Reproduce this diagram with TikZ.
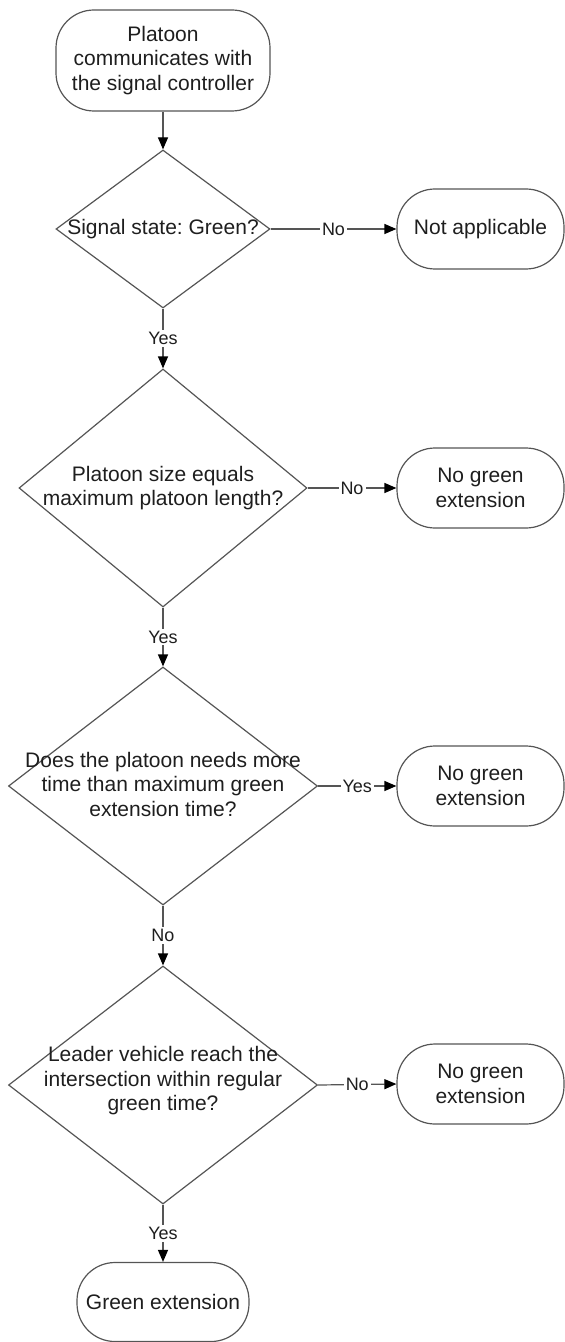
\documentclass[tikz,border=0pt]{standalone}
\usepackage{fontspec}
\setmainfont{Liberation Sans}
\usetikzlibrary{shapes.geometric,arrows.meta}
\definecolor{ln}{HTML}{555555}
\definecolor{tx}{HTML}{1E1E1E}
\frenchspacing
\begin{document}
\begin{tikzpicture}[x=0.5pt,y=-0.5pt,
  font=\fontsize{10.5}{12.25}\selectfont, text=tx,
  term/.style={draw=ln, line width=0.6pt, rounded corners=19pt, align=center, inner sep=0pt, minimum width=83.5pt, minimum height=40pt},
  dia/.style={draw=ln, line width=0.6pt, diamond, inner sep=0pt},
  dtext/.style={align=center, inner sep=0pt},
  conn/.style={draw=ln, line width=0.6pt, -{Triangle[length=6pt,width=5pt,color=black]}},
  lbl/.style={fill=white, inner sep=1pt, text=tx, font=\fontsize{9}{10}\selectfont}]
\useasboundingbox (0,0) rectangle (565,1342);
% start
\node[term, minimum width=107pt, minimum height=50.5pt] (top) at (163,60.5) {Platoon\\communicates with\\the signal controller};
% decision 1
\node[dia, minimum width=107pt, minimum height=79pt] (d1) at (163,229) {};
\node[dtext] (d1t) at (d1.center) {Signal state: Green?};
\node[term] (na) at (480.5,229) {Not applicable};
% decision 2
\node[dia, minimum width=144pt, minimum height=119pt] (d2) at (163,488) {};
\node[dtext] (d2t) at (d2.center) {Platoon size equals\\maximum platoon length?};
\node[term] (n2) at (480.5,488) {No green\\extension};
% decision 3
\node[dia, minimum width=154.5pt, minimum height=119pt] (d3) at (163,786) {};
\node[dtext] (d3t) at ([yshift=1pt]d3.center) {Does the platoon needs more\\time than maximum green\\extension time?};
\node[term] (n3) at (480.5,786) {No green\\extension};
% decision 4
\node[dia, minimum width=154.5pt, minimum height=119pt] (d4) at (163,1085) {};
\node[dtext] (d4t) at ([yshift=2pt]d4.center) {Leader vehicle reach the\\intersection within regular\\green time?};
\node[term] (n4) at (480.5,1084) {No green\\extension};
% end
\node[term, minimum width=86pt, minimum height=39.5pt] (ge) at (163,1302) {Green extension};
% connectors
\draw[conn] (top.south) -- (d1.north);
\draw[conn] (d1.east) -- node[lbl]{No} (na.west);
\draw[conn] (d1.south) -- node[lbl]{Yes} (d2.north);
\draw[conn] (d2.east) -- node[lbl]{No} (n2.west);
\draw[conn] (d2.south) -- node[lbl]{Yes} (d3.north);
\draw[conn] (d3.east) -- node[lbl]{Yes} (n3.west);
\draw[conn] (d3.south) -- node[lbl]{No} (d4.north);
\draw[conn] (d4.east) -- node[lbl]{No} (n4.west);
\draw[conn] (d4.south) -- node[lbl]{Yes} (ge.north);
\end{tikzpicture}
\end{document}
